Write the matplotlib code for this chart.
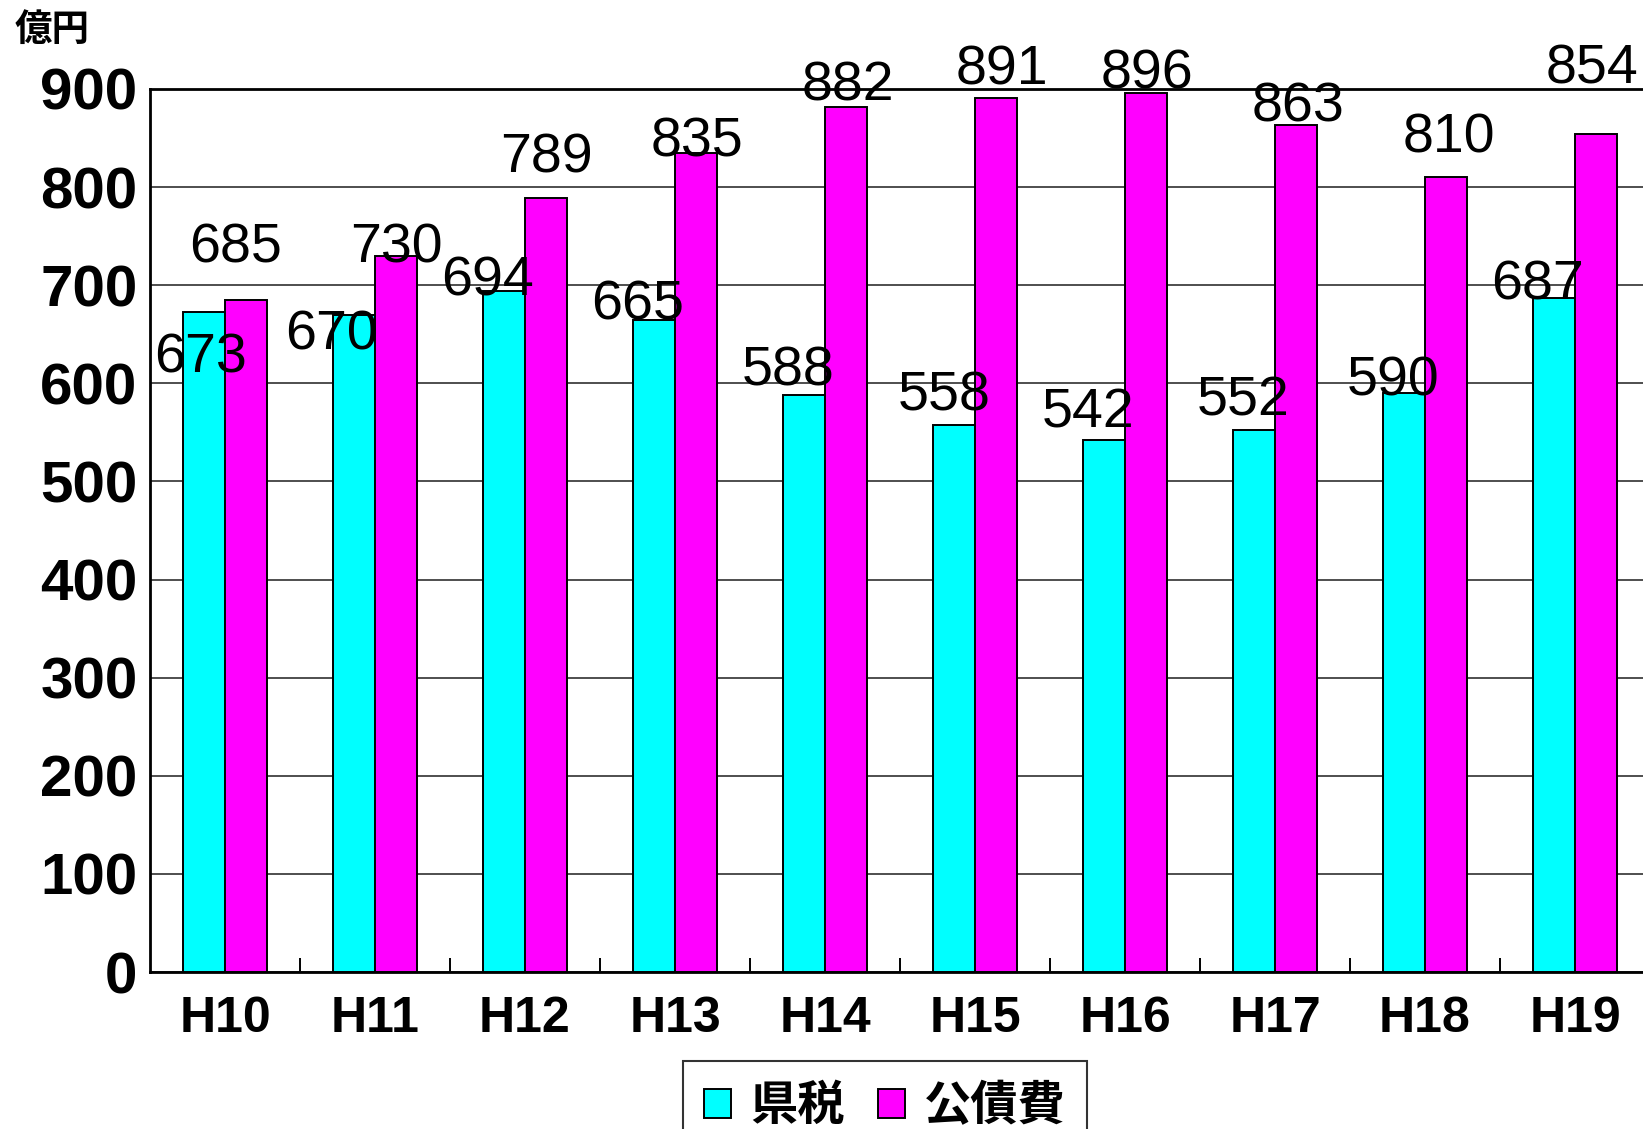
import numpy as np
import matplotlib
matplotlib.use("Agg")
import matplotlib.pyplot as plt
from matplotlib.patches import Patch

# ---- data ------------------------------------------------------------
years = ["H10", "H11", "H12", "H13", "H14", "H15", "H16", "H17", "H18", "H19"]
kenzei = [673, 670, 694, 665, 588, 558, 542, 552, 590, 687]       # 県税
kousaihi = [685, 730, 789, 835, 882, 891, 896, 863, 810, 854]     # 公債費
series_names = ["県税", "公債費"]
y_ticks = [0, 100, 200, 300, 400, 500, 600, 700, 800, 900]

# label offsets from the bar top, in pixels (dx, dy up)
kenzei_dx = [-4, -23, -17, -17, -16, -10, -16, -11, -11, -17]
kenzei_dy = [-41, -15, 16, 20, 30, 34, 33, 35, 18, 18]
kousai_dx = [-10, 1, 1, 1, 2, 6, 1, 2, 3, -4]
kousai_dy = [57, 13, 45, 16, 26, 33, 24, 24, 45, 71]

# ---- style -----------------------------------------------------------
c_ken = "#00FFFF"
c_kou = "#FF00FF"
sans = ["Liberation Sans", "DejaVu Sans"]
cjk = ["Noto Sans CJK JP", "DejaVu Sans"]

W, H = 1643, 1129
fig = plt.figure(figsize=(W / 100, H / 100), dpi=100)
ax = fig.add_axes([150 / W, 1 - 972 / H, 1500 / W, (972 - 89) / H])

x = np.arange(len(years))
bw = 0.277
ax.bar(x - bw / 2, kenzei, bw, color=c_ken, edgecolor="black", linewidth=1.4, zorder=3)
ax.bar(x + bw / 2, kousaihi, bw, color=c_kou, edgecolor="black", linewidth=1.4, zorder=3)

ax.set_xlim(-0.5, len(years) - 0.5)
ax.set_ylim(0, 900)
ax.set_yticks(y_ticks)
ax.set_yticklabels([str(v) for v in y_ticks], family=sans, fontweight="bold", fontsize=42)
ax.set_xticks(x)
ax.set_xticklabels(years, family=sans, fontweight="bold", fontsize=36)
ax.set_xticks(np.arange(len(years)) + 0.5, minor=True)
ax.tick_params(axis="x", which="major", length=0, pad=17)
ax.tick_params(axis="x", which="minor", direction="in", length=10, width=1.4, color="black")
ax.tick_params(axis="y", length=0, pad=9)

ax.yaxis.grid(True, color="#404040", linewidth=1.3, zorder=0)
ax.set_axisbelow(True)
for s in ["left", "bottom", "top"]:
    ax.spines[s].set_linewidth(2.0)
    ax.spines[s].set_color("black")
ax.spines["right"].set_visible(False)

# value labels
for i in range(len(years)):
    ax.annotate(str(kenzei[i]), (x[i] - bw / 2, kenzei[i]),
                xytext=(kenzei_dx[i], kenzei_dy[i] - 20), textcoords="offset pixels",
                ha="center", va="baseline", family=sans, fontsize=40, zorder=5)
    ax.annotate(str(kousaihi[i]), (x[i] + bw / 2, kousaihi[i]),
                xytext=(kousai_dx[i], kousai_dy[i] - 20), textcoords="offset pixels",
                ha="center", va="baseline", family=sans, fontsize=40, zorder=5,
                annotation_clip=False)

# unit
fig.text(15 / W, 1 - 10 / H, "億円", family=cjk, fontweight="bold", fontsize=27,
         ha="left", va="top")

# legend
handles = [Patch(facecolor=c_ken, edgecolor="black", linewidth=1.4),
           Patch(facecolor=c_kou, edgecolor="black", linewidth=1.4)]
leg = fig.legend(handles, series_names, loc="upper center",
                 bbox_to_anchor=(885 / W, 1 - 1061 / H), ncol=2,
                 prop={"family": cjk, "weight": "bold", "size": 34},
                 handlelength=0.56, handleheight=0.56, handletextpad=0.41,
                 columnspacing=0.72, borderpad=0.45, borderaxespad=0,
                 fancybox=False, frameon=True)
leg.get_frame().set_edgecolor("black")
leg.get_frame().set_linewidth(1.5)

fig.savefig("out.png", dpi=100)
